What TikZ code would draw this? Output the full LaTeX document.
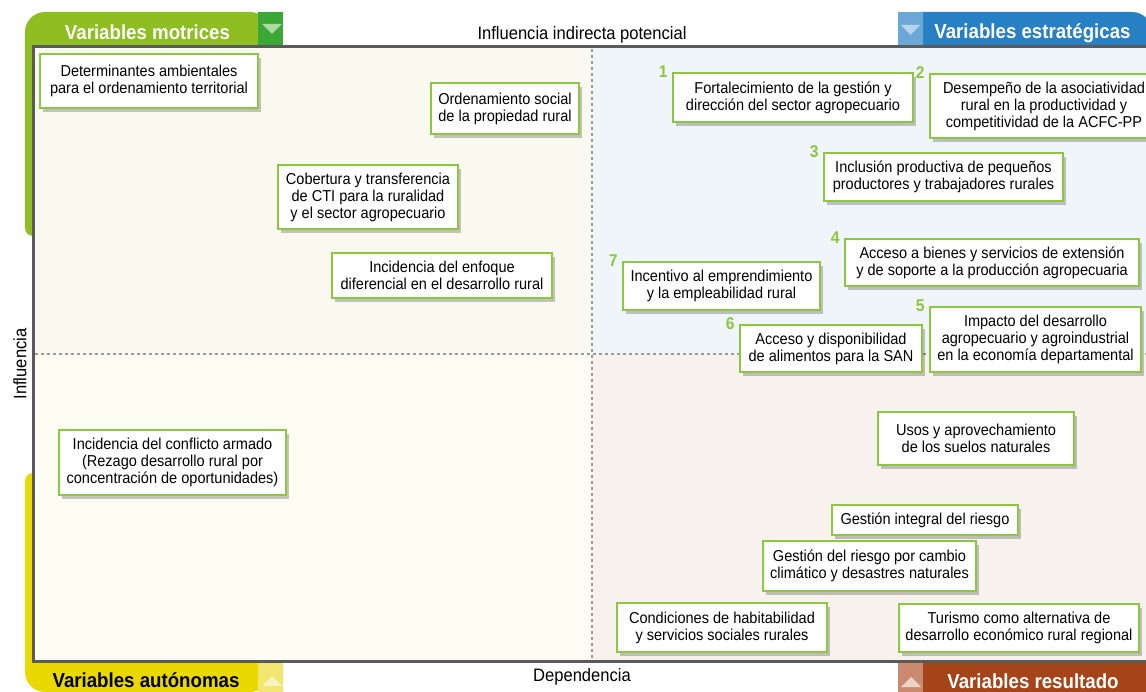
\documentclass[tikz,border=0pt]{standalone}
\usepackage{fontspec}
\setmainfont{Liberation Sans}[FakeStretch=0.92]
\usetikzlibrary{shadows}
\usetikzlibrary{positioning}

\definecolor{motgreen}{RGB}{143,190,34}
\definecolor{motdark}{RGB}{59,168,53}
\definecolor{motlight}{RGB}{170,218,160}
\definecolor{estblue}{RGB}{40,128,196}
\definecolor{estmid}{RGB}{108,168,215}
\definecolor{estlight}{RGB}{182,212,236}
\definecolor{autyellow}{RGB}{233,217,0}
\definecolor{autmid}{RGB}{241,231,112}
\definecolor{autlight}{RGB}{249,243,190}
\definecolor{resbrown}{RGB}{164,68,24}
\definecolor{resmid}{RGB}{201,138,112}
\definecolor{reslight}{RGB}{237,211,200}
\definecolor{boxgreen}{RGB}{141,198,63}
\definecolor{framegray}{RGB}{90,90,90}
\definecolor{dotgray}{RGB}{155,155,155}
\definecolor{qmot}{RGB}{249,249,239}
\definecolor{qest}{RGB}{240,245,249}
\definecolor{qaut}{RGB}{252,252,242}
\definecolor{qres}{RGB}{248,242,238}

\tikzset{
  varbox/.style={draw=boxgreen,line width=2.6pt,fill=white,align=center,inner sep=0pt,
    font=\fontsize{15.8}{17}\selectfont,
    drop shadow={shadow xshift=3pt,shadow yshift=-4pt,fill=black,opacity=0.22}},
  numlbl/.style={text=boxgreen,font=\bfseries\fontsize{17}{17}\selectfont,inner sep=0pt},
  headlbl/.style={font=\bfseries\fontsize{20.3}{22}\selectfont,anchor=base,inner sep=0pt},
  axislbl/.style={font=\fontsize{18}{20}\selectfont,inner sep=0pt},
  divline/.style={dotgray,line width=1.5pt,dash pattern=on 3pt off 3pt}
}

\begin{document}
\begin{tikzpicture}[x=1pt,y=-1pt]
\useasboundingbox (0,0) rectangle (1146,692);

% corner bands
\fill[motgreen,rounded corners=20] (25,12) rectangle (270,120);
\fill[motgreen,rounded corners=8] (25,60) rectangle (60,236);
\fill[motdark] (258,12) rectangle (283,47);
\fill[motlight] (262,24) -- (282,24) -- (272,34) -- cycle;

\fill[estblue,rounded corners=20] (900,12) rectangle (1152,80);
\fill[estmid] (898,12) rectangle (923,47);
\fill[estlight] (901,25) -- (920,25) -- (910.5,35) -- cycle;

\fill[autyellow,rounded corners=8] (25,473) rectangle (60,600);
\fill[autyellow,rounded corners=20] (25,560) rectangle (270,692);
\fill[autmid] (258,661) rectangle (283,692);
\fill[autlight] (262,686) -- (282,686) -- (272,676) -- cycle;

\fill[resbrown,rounded corners=20] (900,620) rectangle (1152,700);
\fill[resmid] (898,661) rectangle (923,692);
\fill[reslight] (901,687) -- (921,687) -- (911,677) -- cycle;

% quadrants
\fill[qmot] (33,47) rectangle (592,354);
\fill[qest] (592,47) rectangle (1160,354);
\fill[qaut] (33,354) rectangle (592,661);
\fill[qres] (592,354) rectangle (1160,661);
\draw[divline] (592,49) -- (592,659);
\draw[divline] (35,354) -- (1160,354);
\draw[framegray,line width=3pt] (33.5,47) rectangle (1162,661);

% headers and axes
\node[headlbl,text=white] (hmot) at (147.5,40) {Variables motrices};
\node[headlbl,text=white] (hest) at (1032.5,39) {Variables estratégicas};
\node[headlbl,text=black] (haut) at (146,687) {Variables autónomas};
\node[headlbl,text=white] (hres) at (1033,688) {Variables resultado};
\node[axislbl] (aind) at (582,35) {Influencia indirecta potencial};
\node[axislbl] (adep) at (582,677) {Dependencia};
\node[axislbl,rotate=90] (ainf) at (20,364) {Influencia};

% variables
\node[varbox,minimum width=218,minimum height=54] (detamb) at (149,81)
  {Determinantes ambientales\\para el ordenamiento territorial};
\node[varbox,minimum width=148,minimum height=51] (ordsoc) at (505,108.5)
  {Ordenamiento social\\de la propiedad rural};
\node[varbox,minimum width=180,minimum height=64] (cobcti) at (368,197)
  {Cobertura y transferencia\\de CTI para la ruralidad\\y el sector agropecuario};
\node[varbox,minimum width=220,minimum height=45] (incenf) at (442,275.5)
  {Incidencia del enfoque\\diferencial en el desarrollo rural};
\node[varbox,minimum width=227,minimum height=65] (inccon) at (172.5,462.5)
  {Incidencia del conflicto armado\\(Rezago desarrollo rural por\\concentración de oportunidades)};

\node[varbox,minimum width=240,minimum height=49] (fortal) at (793,97.5)
  {Fortalecimiento de la gestión y\\dirección del sector agropecuario};
\node[varbox,minimum width=228,minimum height=64] (desemp) at (1044,106)
  {Desempeño de la asociatividad\\rural en la productividad y\\competitividad de la ACFC-PP};
\node[varbox,minimum width=239,minimum height=48] (inclus) at (943.5,177)
  {Inclusión productiva de pequeños\\productores y trabajadores rurales};
\node[varbox,minimum width=294,minimum height=47] (acbien) at (992,262.5)
  {Acceso a bienes y servicios de extensión\\y de soporte a la producción agropecuaria};
\node[varbox,minimum width=211,minimum height=65] (impact) at (1035.5,339.5)
  {Impacto del desarrollo\\agropecuario y agroindustrial\\en la economía departamental};
\node[varbox,minimum width=182,minimum height=47] (acalim) at (831,348.5)
  {Acceso y disponibilidad\\de alimentos para la SAN};
\node[varbox,minimum width=197,minimum height=48] (incemp) at (721.5,286)
  {Incentivo al emprendimiento\\y la empleabilidad rural};

\node[varbox,minimum width=196,minimum height=53] (usosue) at (976,438.5)
  {Usos y aprovechamiento\\de los suelos naturales};
\node[varbox,minimum width=186,minimum height=30] (gesint) at (925,520)
  {Gestión integral del riesgo};
\node[varbox,minimum width=213,minimum height=50] (gescam) at (869.5,566)
  {Gestión del riesgo por cambio\\climático y desastres naturales};
\node[varbox,minimum width=210,minimum height=49] (condhab) at (722,627.5)
  {Condiciones de habitabilidad\\y servicios sociales rurales};
\node[varbox,minimum width=240,minimum height=48] (turism) at (1019,628)
  {Turismo como alternativa de\\desarrollo económico rural regional};

% ranking numbers
\node[numlbl,left=4pt of fortal.north west] (n1) {1};
\node[numlbl,left=4pt of desemp.north west] (n2) {2};
\node[numlbl,left=4pt of inclus.north west] (n3) {3};
\node[numlbl,left=4pt of acbien.north west] (n4) {4};
\node[numlbl,left=4pt of impact.north west] (n5) {5};
\node[numlbl,left=4pt of acalim.north west] (n6) {6};
\node[numlbl,left=4pt of incemp.north west] (n7) {7};
\end{tikzpicture}
\end{document}
